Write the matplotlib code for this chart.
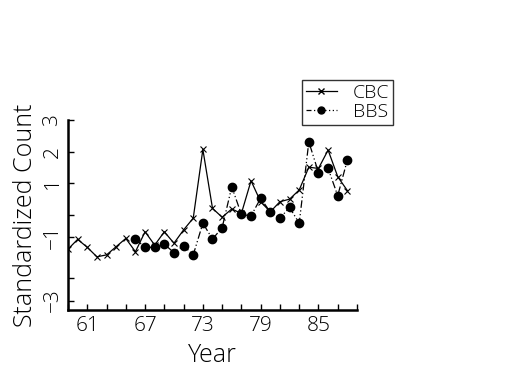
import matplotlib
matplotlib.use("Agg")
import matplotlib.pyplot as plt
from matplotlib.lines import Line2D

cbc_years = list(range(1959, 1989))
cbc_vals = [-1.08, -0.77, -1.02, -1.32, -1.26, -1.00, -0.74, -1.16, -0.53, -0.95,
            -0.53, -0.89, -0.47, -0.10, 2.07, 0.21, -0.07, 0.19, 0.05, 1.08,
            0.42, 0.10, 0.42, 0.50, 0.79, 1.51, 1.47, 2.05, 1.21, 0.77]
bbs_years = list(range(1966, 1989))
bbs_vals = [-0.76, -1.02, -1.02, -0.92, -1.19, -0.97, -1.26, -0.26, -0.76, -0.40,
            0.89, 0.02, -0.03, 0.53, 0.09, -0.10, 0.24, -0.26, 2.31, 1.34,
            1.47, 0.61, 1.74]
x_ticks = list(range(59, 90, 2))
x_labels = ["" if t not in (61, 67, 73, 79, 85) else str(t) for t in x_ticks]
y_ticks = [3, 2, 1, 0, -0.7, -2, -2.7]
y_labels = ["3", "2", "1", "", "\u22121", "", "\u22123"]

plt.rcParams['font.family'] = ['Open Sans', 'DejaVu Sans']
plt.rcParams['font.weight'] = 'light'
plt.rcParams['axes.labelweight'] = 'light'
fig = plt.figure(figsize=(5.25, 3.75), dpi=100)
ax = fig.add_axes([68/525, 1-310/375, (357-68)/525, (310-120)/375])

xc = [y - 1900 for y in cbc_years]
xb = [y - 1900 for y in bbs_years]
ax.plot(xc, cbc_vals, color='black', lw=0.9, marker='x', ms=5, mew=0.8)
ax.plot(xb, bbs_vals, color='black', lw=0.9, marker='o', ms=6,
        linestyle=(0, (6, 2, 1, 2, 1, 2)))

ax.set_xlim(59, 89)
ax.set_ylim(-3, 3)
for s in ('top', 'right'):
    ax.spines[s].set_visible(False)
for s in ('left', 'bottom'):
    ax.spines[s].set_linewidth(1.8)
ax.set_xticks(x_ticks)
ax.set_xticklabels(x_labels, fontsize=15)
ax.set_yticks(y_ticks)
ax.set_yticklabels(y_labels, fontsize=15, rotation=90, va='center')
ax.tick_params(direction='in', length=4, width=1, pad=4)
ax.set_xlabel("Year", fontsize=18, labelpad=5, fontweight='light')
ax.set_ylabel("Standardized Count", fontsize=18, labelpad=3, fontweight='light')

handles = [Line2D([], [], color='black', lw=0.9, marker='x', ms=4, markevery=[0]),
           Line2D([], [], color='black', lw=0.9, marker='o', ms=5, markevery=[0],
                  linestyle=(0, (4, 2, 1, 2, 1, 2)))]
leg = fig.legend(handles, ["CBC", "BBS"], loc='upper left',
                 bbox_to_anchor=(302/525, 1-80/375), fontsize=14,
                 frameon=True, fancybox=False, edgecolor='black',
                 handlelength=1.6, borderpad=0.2, labelspacing=0.05,
                 handletextpad=0.8, borderaxespad=0)
leg.get_frame().set_linewidth(1.0)

fig.savefig("out.png", dpi=100)
